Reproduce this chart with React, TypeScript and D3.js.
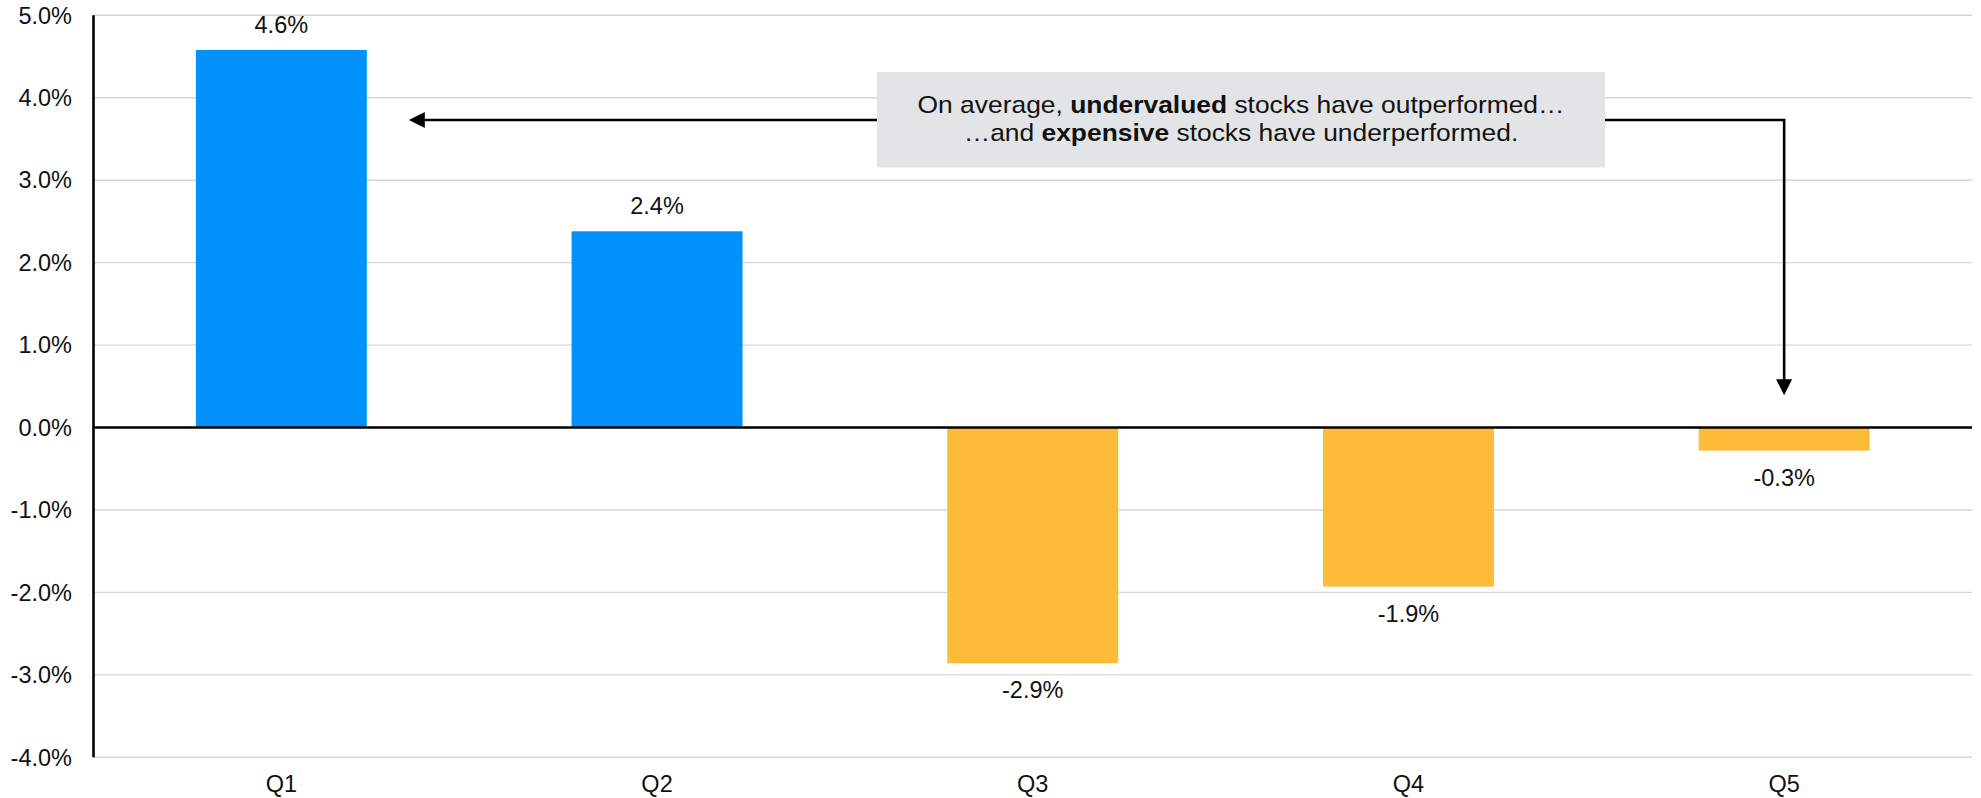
import React from "react";
import * as d3 from "d3";

const categories = ["Q1", "Q2", "Q3", "Q4", "Q5"];
const values = [4.58, 2.38, -2.86, -1.93, -0.28];
const valueLabels = ["4.6%", "2.4%", "-2.9%", "-1.9%", "-0.3%"];
const yTicks = [5, 4, 3, 2, 1, 0, -1, -2, -3, -4];
const annotationLine1 = [
  { text: "On average, ", bold: false },
  { text: "undervalued", bold: true },
  { text: " stocks have outperformed…", bold: false },
];
const annotationLine2 = [
  { text: "…and ", bold: false },
  { text: "expensive", bold: true },
  { text: " stocks have underperformed.", bold: false },
];

const W = 1981;
const H = 798;
const left = 93.5;
const right = 1972;
const top = 15.3;
const bottom = 757.3;
const FONT = "'Liberation Sans', Arial, sans-serif";
const BLUE = "#0091FA";
const YELLOW = "#FDBC38";
const FS = 23.5;

export default function App() {
  const x = d3.scaleBand<string>().domain(categories).range([left, right]).paddingInner(0.545).paddingOuter(0.2725);
  const y = d3.scaleLinear().domain([-4, 5]).range([bottom, top]);
  const fmt = (v: number) => d3.format(".1f")(v).replace("\u2212", "-") + "%";

  // annotation geometry
  const boxX0 = 877, boxX1 = 1605, boxY0 = 72, boxY1 = 167.5;
  const arrowY = 120;
  const leftArrowTip = x("Q1")! + x.bandwidth() + 42;
  const rightArrowX = x("Q5")! + x.bandwidth() / 2;
  const rightArrowTip = y(0.39);
  const cx = (boxX0 + boxX1) / 2;

  return (
    <svg width={W} height={H} style={{ position: "absolute", left: 0, top: 0, display: "block", background: "#fff" }}>
      {/* gridlines */}
      {yTicks.filter((t) => t !== 0).map((t) => (
        <line key={t} x1={left} x2={right} y1={y(t)} y2={y(t)} stroke="#D6D6D6" strokeWidth={1.4} />
      ))}
      {/* y tick labels */}
      {yTicks.map((t) => (
        <text key={"l" + t} x={72} y={y(t)} dy="0.35em" textAnchor="end" fontFamily={FONT} fontSize={FS} fill="#111">
          {fmt(t)}
        </text>
      ))}
      {/* bars */}
      {categories.map((c, i) => {
        const v = values[i];
        return (
          <rect
            key={c}
            x={x(c)}
            width={x.bandwidth()}
            y={Math.min(y(v), y(0))}
            height={Math.abs(y(v) - y(0))}
            fill={v >= 0 ? BLUE : YELLOW}
          />
        );
      })}
      {/* value labels */}
      {categories.map((c, i) => {
        const v = values[i];
        const cxb = x(c)! + x.bandwidth() / 2;
        const ty = v >= 0 ? y(v) - 17 : y(v) + 35;
        return (
          <text key={"v" + c} x={cxb} y={ty} textAnchor="middle" fontFamily={FONT} fontSize={FS} fill="#111">
            {valueLabels[i]}
          </text>
        );
      })}
      {/* x labels */}
      {categories.map((c) => (
        <text key={"x" + c} x={x(c)! + x.bandwidth() / 2} y={792} textAnchor="middle" fontFamily={FONT} fontSize={FS} fill="#111">
          {c}
        </text>
      ))}
      {/* zero line and y axis */}
      <line x1={left} x2={right} y1={y(0)} y2={y(0)} stroke="#000" strokeWidth={2.6} />
      <line x1={left} x2={left} y1={top} y2={bottom} stroke="#000" strokeWidth={2.6} />

      {/* arrows */}
      <line x1={boxX0} x2={leftArrowTip + 14} y1={arrowY} y2={arrowY} stroke="#000" strokeWidth={2.6} />
      <path d={`M${leftArrowTip},${arrowY} L${leftArrowTip + 16},${arrowY - 8} L${leftArrowTip + 16},${arrowY + 8} Z`} fill="#000" />
      <polyline
        points={`${boxX1},${arrowY} ${rightArrowX},${arrowY} ${rightArrowX},${rightArrowTip - 14}`}
        fill="none"
        stroke="#000"
        strokeWidth={2.6}
      />
      <path d={`M${rightArrowX},${rightArrowTip} L${rightArrowX - 8},${rightArrowTip - 16} L${rightArrowX + 8},${rightArrowTip - 16} Z`} fill="#000" />

      {/* annotation box */}
      <rect x={boxX0} y={boxY0} width={boxX1 - boxX0} height={boxY1 - boxY0} fill="#E3E4E6" />
      <g transform={`translate(${cx},0) scale(1.1,1)`}>
        <text x={0} y={113} textAnchor="middle" fontFamily={FONT} fontSize={24} fill="#111">
          {annotationLine1.map((s, i) => (
            <tspan key={i} fontWeight={s.bold ? "bold" : "normal"}>{s.text}</tspan>
          ))}
        </text>
        <text x={0} y={141.5} textAnchor="middle" fontFamily={FONT} fontSize={24} fill="#111">
          {annotationLine2.map((s, i) => (
            <tspan key={i} fontWeight={s.bold ? "bold" : "normal"}>{s.text}</tspan>
          ))}
        </text>
      </g>
    </svg>
  );
}
